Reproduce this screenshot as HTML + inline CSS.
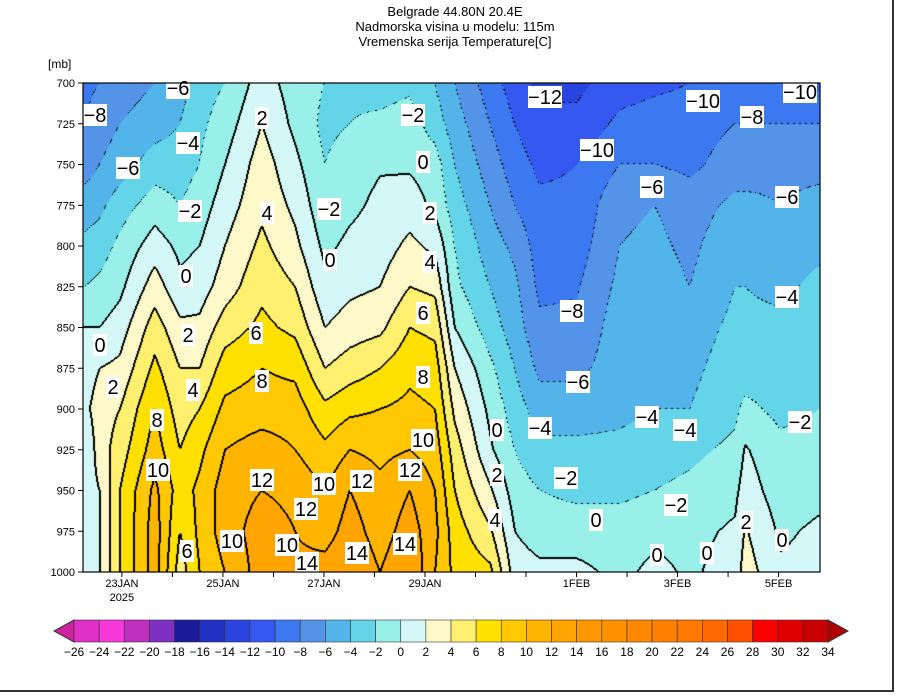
<!DOCTYPE html>
<html><head><meta charset="utf-8"><style>
body{margin:0;background:#fff;width:900px;height:696px;overflow:hidden;font-family:"Liberation Sans",sans-serif;position:relative}
#frame{position:absolute;left:0;top:0;width:892px;height:690px;border-right:2px solid #333;border-bottom:2px solid #333}
canvas{position:absolute;left:83px;top:83px}
svg{position:absolute;left:0;top:0}
</style></head><body>
<div id="frame"></div>
<canvas id="cv" width="737" height="489"></canvas>
<svg id="sv" width="900" height="696"></svg>
<script>
// time in days since 23JAN 00Z
const times=[-0.73,-0.44,-0.04,0.65,1.15,1.54,2.04,2.77,3.43,4.02,4.51,5.11,5.70,6.20,6.59,7.29,7.78,8.28,9.01,9.86,10.55,11.25,12.14,12.34,13.03,13.78];
const levels=[700,725,750,775,800,825,850,875,900,925,950,975,1000];
const temps=[
[-8.5,-8,-7,-5,-3.5,-2,0,1,1.5,0.2,1,1,1],
[-8,-7,-6,-4.5,-3,-1.5,0,2,3,3,2,2,2],
[-7,-6,-5,-3,-1.5,-0.5,1,2.5,4,5,6,6,6],
[-6,-5,-3,-1,1,3,5,6.5,8,9,10.5,11,11],
[-5,-4,-3,-2,-0.5,0.5,2.5,4,5,6,7,6,5],
[-3,-2.5,-2,-1,0,1,2.5,4,6,7.5,8.5,8.5,8],
[-2,-1,0,1,2,3,5,7,8.5,10,11,11,10],
[1,2,3,3.5,4.5,5.5,6.5,8,9,11,12,13,13],
[-1,-0.5,0.5,1.5,2.5,4,5.5,7.5,9,10,11.5,12,12.5],
[-2,-2.5,-2,-1.5,-0.5,0.5,2,4,6.5,8.5,10,11,13],
[-2.5,-2,-1,-0.5,0.5,1.5,3,5,7.5,10,12,13,14],
[-3,-1.5,-0.2,0.5,1,2,3.5,6,8,9.5,10.5,11,12],
[-2.5,-1,-0.3,1,2.5,4,6,7.5,8.5,10,12,13,14],
[-4,-3,-1,-0.5,1.5,3.5,5.5,7,8,9,10,10.5,10],
[-6,-5,-4,-3,-2,-1.5,0,2,3.5,5,6,7,7.5],
[-9,-8,-7,-6,-5,-4,-3,-1.5,-0.5,0.3,2.3,4.3,6.5],
[-11,-10,-9,-8,-6.5,-5.5,-5,-4,-3,-2,-1,0,1],
[-12.5,-11.5,-10.5,-9.5,-9,-8.5,-7.5,-6.5,-5,-3.5,-2,-1,0.5],
[-12.5,-11.5,-10,-9.5,-9,-8.2,-7.5,-6.5,-5,-3.5,-2.5,-1,0.5],
[-11,-9.5,-8,-6.5,-6,-5.5,-5,-5,-4.5,-3.5,-2.5,-1,-0.5],
[-10.5,-9,-8,-6,-5.5,-5,-4.5,-4.5,-4,-3,-2,-0.5,0.5],
[-10,-9,-8.5,-7,-6.5,-6,-5,-4.5,-4,-2.5,-1.5,-0.5,-0.3],
[-9.5,-8,-7,-5.5,-4.5,-4,-3.5,-3,-2.5,-1.5,-0.5,0.3,0.8],
[-9.5,-8,-7,-5.5,-4.5,-4,-3.5,-3,-1.5,0.2,1,2.2,3],
[-10,-8,-6.5,-6,-5,-4.5,-3.5,-3,-2.5,-1.5,-1,-0.3,0.3],
[-10.5,-8,-6.5,-5.5,-4.5,-3.5,-3,-2.5,-2,-1.5,-0.5,0.3,0.5]
];
const cbLabels=[-26,-24,-22,-20,-18,-16,-14,-12,-10,-8,-6,-4,-2,0,2,4,6,8,10,12,14,16,18,20,22,24,26,28,30,32,34];
const cbColors=["#d020a0","#e030c8","#f838d8","#c030c0","#8030c0","#1a1a9a","#2030c0","#2a44e0","#3458f0","#3c78f0","#5494e8","#52b4e8","#64d4e8","#98f0e8","#d4f8f8","#fff8c8","#fff070","#ffe000","#ffc800","#ffb400","#ffa400","#ff9800","#ff9000","#ff8800","#ff8000","#ff7800","#ff6a00","#ff5000","#ff0000","#e00000","#c80000","#b00000"];
const dateLabels=["23JAN","25JAN","27JAN","29JAN","1FEB","3FEB","5FEB"];
const dateDays=[0,2,4,6,9,11,13];
const labels=[[-8,95,115],[-6,178,88],[-4,188,143],[-6,128,168],[-2,190,211],[0,186,276],[0,100,345],[2,188,335],[2,113,387],[4,193,390],[8,157,420],[10,158,470],[6,187,551],[2,262,118],[4,267,213],[6,256,333],[8,262,381],[12,262,480],[10,232,541],[10,287,545],[14,307,563],[12,306,509],[10,324,484],[12,362,481],[14,357,553],[-2,329,209],[0,330,260],[-2,413,115],[0,423,162],[2,430,213],[4,430,262],[6,423,313],[8,423,377],[10,423,440],[12,410,470],[14,405,544],[0,497,430],[2,497,475],[4,495,520],[-12,545,97],[-10,597,150],[-10,703,101],[-8,752,117],[-10,800,92],[-6,652,187],[-6,787,197],[-4,787,297],[-8,572,311],[-6,578,382],[-4,540,428],[-4,647,417],[-4,685,430],[-2,800,422],[-2,566,478],[-2,676,505],[0,596,520],[2,746,522],[0,782,540],[0,657,555],[0,707,553]];

const X0=83,X1=820,Y0=83,Y1=572,D0=-0.77,D1=13.82;
function xs(d){return X0+(d-D0)/(D1-D0)*(X1-X0);}
function ys(p){return Y0+(p-700)/300*(Y1-Y0);}
function tempAt(d,p){
  let i=0;while(i<times.length-2&&times[i+1]<d)i++;
  let tx=Math.max(0,Math.min(1,(d-times[i])/(times[i+1]-times[i])));
  let j=Math.max(0,Math.min(levels.length-2,Math.floor((p-700)/25)));
  let ty=Math.max(0,Math.min(1,(p-levels[j])/25));
  const a=temps[i][j],b=temps[i+1][j],c=temps[i][j+1],e=temps[i+1][j+1];
  return (a*(1-tx)+b*tx)*(1-ty)+(c*(1-tx)+e*tx)*ty;
}
function hex(h){return [parseInt(h.substr(1,2),16),parseInt(h.substr(3,2),16),parseInt(h.substr(5,2),16)];}
const rgb=cbColors.map(hex);
const cv=document.getElementById('cv'),ctx=cv.getContext('2d');
const W=cv.width,H=cv.height,img=ctx.createImageData(W,H);
const bin=new Int16Array(W*H);
for(let y=0;y<H;y++)for(let x=0;x<W;x++){
  const d=D0+(x+0.5)/W*(D1-D0),p=700+(y+0.5)/H*300;
  const t=tempAt(d,p);
  bin[y*W+x]=Math.max(0,Math.min(31,Math.floor((t+26)/2)+1));
}
for(let y=0;y<H;y++)for(let x=0;x<W;x++){
  const k=y*W+x,b=bin[k];let c=rgb[b];
  const br=x<W-1?bin[k+1]:b,bd=y<H-1?bin[k+W]:b;
  const bl=x>0?bin[k-1]:b,bu=y>0?bin[k-W]:b;
  if(br!==b||bd!==b){
    const val=(Math.max(b,br,bd)-1)*2-26;
    if(val>=0||(((x>>1)+(y>>1))%3===0))c=[0,0,0];
  } else if(bl!==b||bu!==b){
    const val=(Math.max(b,bl,bu)-1)*2-26;
    if(val>=0)c=[0,0,0];
  }
  const o=k*4;img.data[o]=c[0];img.data[o+1]=c[1];img.data[o+2]=c[2];img.data[o+3]=255;
}
ctx.putImageData(img,0,0);

const NS='http://www.w3.org/2000/svg',sv=document.getElementById('sv');
function el(t,a,txt){const e=document.createElementNS(NS,t);for(const k in a)e.setAttribute(k,a[k]);if(txt!==undefined)e.textContent=txt;sv.appendChild(e);return e;}
labels.forEach(l=>{
  const s=String(l[0]).replace('-','\u2212');const w=s.length*10+4;
  const r=el('rect',{x:l[1]-w/2,y:l[2]-11,width:w,height:22,fill:'#fff'});
  
  
  const t=el('text',{x:l[1],y:l[2]+7,'font-size':20,'text-anchor':'middle',fill:'#000'},s);
  
  
});
const fr=el('rect',{x:X0,y:Y0,width:X1-X0,height:Y1-Y0,fill:'none',stroke:'#000','stroke-width':1.2});


levels.forEach(p=>{
  const tk=el('line',{x1:X0-5,x2:X0,y1:ys(p),y2:ys(p),stroke:'#000'});
  
  
  const t=el('text',{x:X0-8,y:ys(p)+4,'font-size':11,'text-anchor':'end'},String(p));
  
  
});
for(let d=0;d<=13;d++){
  const tk=el('line',{x1:xs(d),x2:xs(d),y1:Y1,y2:Y1+5,stroke:'#000'});
  
  
}
dateLabels.forEach((s,i)=>{
  const t=el('text',{x:xs(dateDays[i]),y:Y1+15,'font-size':11,'text-anchor':'middle'},s);
  
  
});
const yr=el('text',{x:xs(0),y:Y1+29,'font-size':11,'text-anchor':'middle'},'2025');


const mb=el('text',{x:48,y:68,'font-size':12},'[mb]');


['Belgrade  44.80N 20.4E','Nadmorska visina u modelu: 115m','Vremenska serija Temperature[C]'].forEach((s,i)=>{
  const t=el('text',{x:455,y:16+i*15,'font-size':13,'text-anchor':'middle','xml:space':'preserve'},s);
  
  
});
const CB0=74,CB1=828,CBy=620,CBh=22,bw=(CB1-CB0)/30;
const la=el('polygon',{points:`${CB0},${CBy} ${CB0},${CBy+CBh} 54,${CBy+CBh/2}`,fill:cbColors[0],stroke:'#333'});


for(let i=0;i<30;i++){
  const r=el('rect',{x:CB0+i*bw,y:CBy,width:bw,height:CBh,fill:cbColors[i+1],stroke:'#333','stroke-width':0.6});
  
  
}
const ra=el('polygon',{points:`${CB1},${CBy} ${CB1},${CBy+CBh} 848,${CBy+CBh/2}`,fill:cbColors[31],stroke:'#333'});


cbLabels.forEach((v,i)=>{
  const t=el('text',{x:CB0+i*bw,y:CBy+CBh+14,'font-size':12,'text-anchor':'middle'},String(v).replace('-','\u2212'));
  
  
});
</script>
</body></html>
